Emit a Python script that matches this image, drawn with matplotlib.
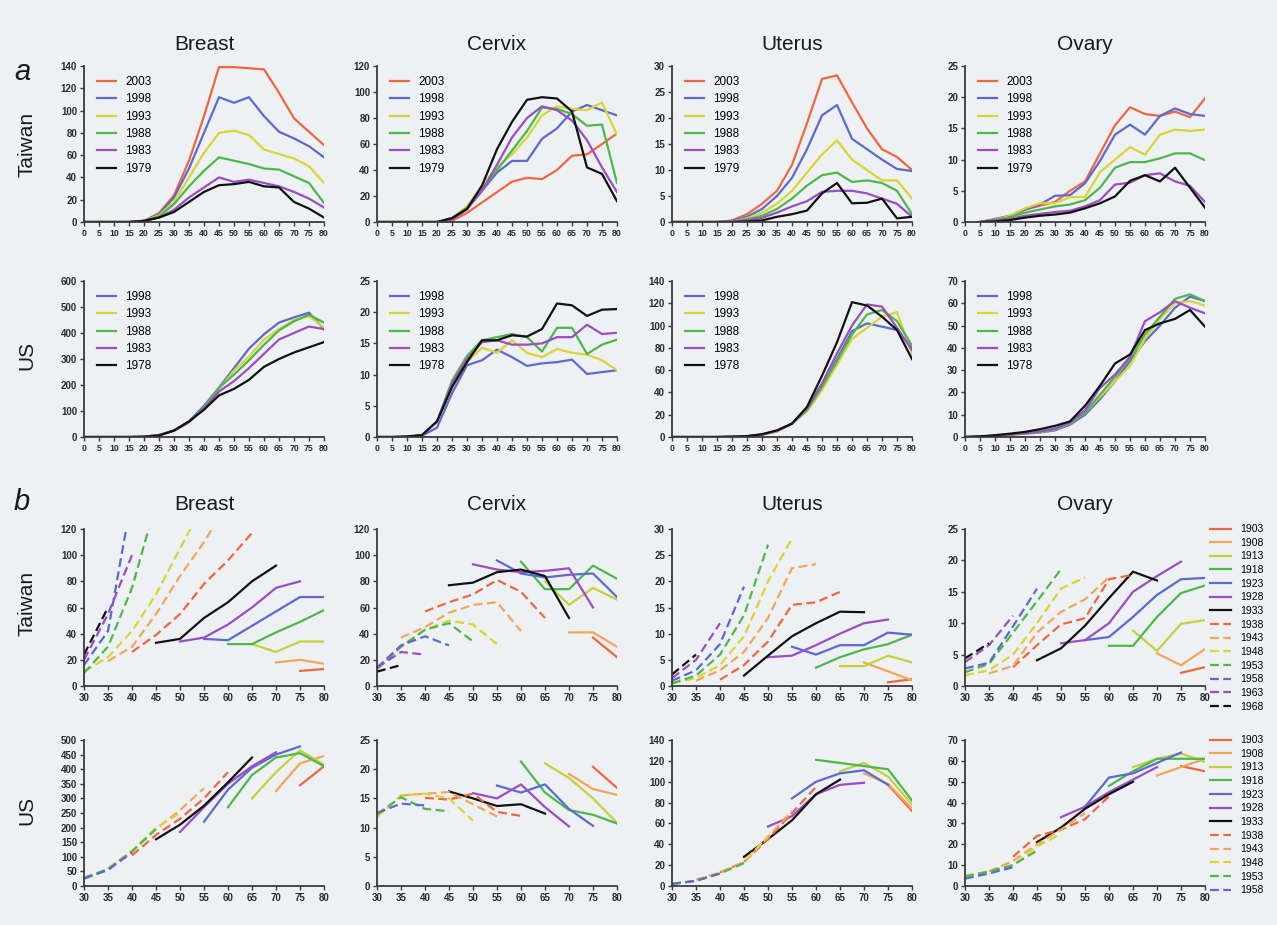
import numpy as np
import matplotlib.pyplot as plt

plt.rcParams['font.family'] = 'Liberation Sans'

W, H = 1277, 925
BG = '#EEF1F4'
N = None

# ---------------- data ----------------
ages_a = list(range(0, 85, 5))
ages_b = list(range(30, 85, 5))

years_tw = ['2003', '1998', '1993', '1988', '1983', '1979']
years_us = ['1998', '1993', '1988', '1983', '1978']
cohorts_tw = ['1903', '1908', '1913', '1918', '1923', '1928', '1933',
              '1938', '1943', '1948', '1953', '1958', '1963', '1968']
cohorts_us = cohorts_tw[:12]

# part a, Taiwan (rows follow years_tw)
tw_breast_a = [
    [0, 0, 0, 0, 1, 8, 24, 55, 95, 139, 139, 138, 137, 116, 93, 81, 69],
    [0, 0, 0, 0, 1, 7, 22, 48, 80, 112, 107, 112, 95, 81, 75, 68, 58],
    [0, 0, 0, 0, 1, 6, 18, 40, 62, 80, 82, 78, 65, 61, 57, 50, 35],
    [0, 0, 0, 0, 1, 5, 16, 32, 46, 58, 55, 52, 48, 47, 41, 35, 17],
    [0, 0, 0, 0, 1, 4, 11, 22, 31, 40, 36, 38, 35, 32, 27, 21, 13],
    [0, 0, 0, 0, 1, 4, 9, 18, 27, 33, 34, 36, 32, 31, 18, 12, 4],
]
tw_cervix_a = [
    [0, 0, 0, 0, 0, 1, 7, 15, 23, 31, 34, 33, 40, 51, 52, 60, 68],
    [0, 0, 0, 0, 0, 2, 10, 24, 38, 47, 47, 64, 72, 85, 90, 86, 82],
    [0, 0, 0, 0, 0, 3, 12, 28, 42, 52, 65, 82, 89, 87, 86, 92, 67],
    [0, 0, 0, 0, 0, 3, 11, 25, 40, 55, 70, 88, 87, 83, 74, 75, 30],
    [0, 0, 0, 0, 0, 2, 10, 24, 44, 65, 80, 89, 86, 78, 63, 42, 23],
    [0, 0, 0, 0, 0, 3, 10, 28, 56, 77, 94, 96, 95, 85, 42, 37, 16],
]
tw_uterus_a = [
    [0, 0, 0, 0, 0.3, 1.5, 3.5, 6, 11, 19, 27.5, 28.2, 23, 18, 14, 12.5, 10],
    [0, 0, 0, 0, 0.2, 1, 2.5, 5, 8.5, 14, 20.5, 22.5, 16, 14, 12, 10.2, 9.8],
    [0, 0, 0, 0, 0.1, 0.7, 1.8, 3.5, 6, 9.5, 13, 15.7, 12, 10, 8, 8, 4.5],
    [0, 0, 0, 0, 0.1, 0.5, 1.2, 2.5, 4.5, 7, 9, 9.5, 7.7, 8, 7.5, 6, 1.5],
    [0, 0, 0, 0, 0.1, 0.3, 0.8, 1.8, 3, 4, 5.8, 6, 6, 5.5, 4.5, 3.5, 1],
    [0, 0, 0, 0, 0, 0.1, 0.3, 1, 1.5, 2.2, 5.5, 7.5, 3.6, 3.7, 4.5, 0.7, 1.0],
]
tw_ovary_a = [
    [N, 0, 0.5, 1, 2, 2.6, 3.2, 5, 6.5, 11, 15.5, 18.4, 17.3, 17, 17.7, 16.8, 19.8],
    [N, 0, 0.4, 1, 2, 2.8, 4.2, 4.3, 6.2, 9.8, 14, 15.6, 14, 17, 18.2, 17.3, 17],
    [N, 0, 0.3, 1, 2.2, 3, 3, 4, 4, 8, 10, 12, 10.8, 14, 14.8, 14.6, 14.8],
    [N, 0, 0.3, 0.8, 1.5, 2, 2.5, 2.8, 3.5, 5.5, 8.7, 9.6, 9.6, 10.2, 11, 11, 9.9],
    [N, 0, 0.2, 0.5, 1, 1.3, 1.6, 1.8, 2.5, 3.5, 6, 6.3, 7.5, 7.8, 6.5, 5.8, 3.2],
    [N, 0, 0.1, 0.3, 0.7, 1, 1.2, 1.5, 2.2, 3, 4.1, 6.6, 7.5, 6.5, 8.7, 5.5, 2.3],
]

# part a, US (rows follow years_us)
us_breast_a = [
    [0, 0, 0, 0, 1, 8, 25, 60, 120, 190, 265, 340, 395, 440, 460, 478, 415],
    [0, 0, 0, 0, 1, 8, 25, 55, 110, 185, 255, 310, 375, 415, 450, 465, 420],
    [0, 0, 0, 0, 1, 7, 24, 58, 115, 190, 240, 295, 355, 410, 445, 470, 440],
    [0, 0, 0, 0, 1, 7, 24, 58, 110, 175, 215, 265, 320, 375, 400, 425, 415],
    [0, 0, 0, 0, 1, 6, 25, 60, 105, 160, 185, 220, 270, 300, 325, 345, 365],
]
us_cervix_a = [
    [0, 0, 0, 0.2, 1.5, 7, 11.5, 12.3, 14, 12.8, 11.4, 11.8, 12, 12.4, 10.1, 10.4, 10.7],
    [0, 0, 0, 0.3, 2.5, 8, 12, 14.3, 13.5, 15.5, 13.5, 12.8, 14.1, 13.5, 13.2, 12.3, 10.7],
    [0, 0, 0, 0.3, 2.5, 9, 13, 15.5, 16, 16.5, 16, 13.7, 17.5, 17.5, 13.3, 14.8, 15.6],
    [0, 0, 0, 0.3, 2.5, 8.5, 12.5, 15.2, 15.5, 14.8, 14.8, 15, 16, 16, 18, 16.5, 16.7],
    [0, 0, 0.1, 0.3, 2.5, 8, 12, 15.5, 15.5, 16.3, 16.1, 17.3, 21.4, 21.1, 19.4, 20.4, 20.5],
]
us_uterus_a = [
    [0, 0, 0, 0, 0.2, 0.5, 2, 5, 12, 25, 45, 70, 95, 102, 99, 96, 80],
    [0, 0, 0, 0, 0.2, 0.5, 2, 5, 12, 23, 42, 65, 88, 98, 108, 112, 75],
    [0, 0, 0, 0, 0.2, 0.6, 2.2, 5.5, 12, 24, 45, 68, 92, 110, 114, 104, 82],
    [0, 0, 0, 0, 0.2, 0.6, 2.2, 5.5, 12, 26, 48, 75, 100, 119, 117, 98, 78],
    [0, 0, 0, 0, 0.3, 0.8, 2.5, 6, 12, 27, 55, 85, 121, 118, 108, 96, 70],
]
us_ovary_a = [
    [0, 0.2, 0.5, 1, 1.5, 2, 3, 5.5, 10, 17, 25, 34, 43, 50, 58, 63, 61],
    [0, 0.2, 0.5, 1, 1.6, 2.2, 3.5, 6, 11, 18, 25, 32, 44, 53, 60, 61, 59],
    [0, 0.2, 0.5, 1, 1.6, 2.3, 3.5, 6, 11, 19, 27, 35, 46, 54, 62, 64, 61],
    [0, 0.2, 0.6, 1.2, 1.8, 2.5, 3.8, 6.5, 12, 22, 28, 36, 52, 56, 61, 58, 55.5],
    [0, 0.3, 0.8, 1.5, 2.3, 3.5, 5, 7, 14, 23, 33, 37, 48, 51, 53, 57, 49.5],
]

# part b, Taiwan birth cohorts (rows follow cohorts_tw, ages 30..80)
tw_breast_b = [
    [N, N, N, N, N, N, N, N, N, 11.5, 13],
    [N, N, N, N, N, N, N, N, 18, 20, 17],
    [N, N, N, N, N, N, N, 32, 26, 34, 34],
    [N, N, N, N, N, N, 32, 32, 41, 49, 58],
    [N, N, N, N, N, 36, 35, 46, 57, 68, 68],
    [N, N, N, N, 34, 37, 47, 60, 75, 80, N],
    [N, N, N, 33, 36, 52, 64, 80, 92, N, N],
    [N, N, 26, 39, 55, 78, 96, 117, N, N, N],
    [N, 19, 30, 55, 84, 110, 140, N, N, N, N],
    [11, 22, 42, 70, 105, 140, N, N, N, N, N],
    [10, 30, 75, 140, 200, N, N, N, N, N, N],
    [16, 42, 145, 220, N, N, N, N, N, N, N],
    [20, 55, 100, N, N, N, N, N, N, N, N],
    [24, 60, N, N, N, N, N, N, N, N, N],
]
tw_cervix_b = [
    [N, N, N, N, N, N, N, N, N, 37, 22],
    [N, N, N, N, N, N, N, N, 41, 41, 30],
    [N, N, N, N, N, N, N, 80, 62, 75, 66],
    [N, N, N, N, N, N, 95, 74, 74, 92, 82],
    [N, N, N, N, N, 96, 86, 83, 85, 86, 68],
    [N, N, N, N, 93, 89, 87, 88, 90, 60, N],
    [N, N, N, 77, 79, 87, 89, 84, 52, N, N],
    [N, N, 57, 64, 70, 81, 72, 52, N, N, N],
    [N, 37, 45, 56, 62, 64, 42, N, N, N, N],
    [14, 30, 43, 50, 47, 32, N, N, N, N, N],
    [13, 30, 43, 48, 34, N, N, N, N, N, N],
    [14, 31, 38, 31, N, N, N, N, N, N, N],
    [14, 26, 24, N, N, N, N, N, N, N, N],
    [11, 16, N, N, N, N, N, N, N, N, N],
]
tw_uterus_b = [
    [N, N, N, N, N, N, N, N, N, 0.7, 1.3],
    [N, N, N, N, N, N, N, N, 4.5, 2.8, 1.1],
    [N, N, N, N, N, N, N, 3.8, 3.8, 5.8, 4.5],
    [N, N, N, N, N, N, 3.5, 5.5, 7, 8, 9.8],
    [N, N, N, N, N, 7.5, 6, 7.8, 7.8, 10.2, 9.8],
    [N, N, N, N, 5.5, 5.8, 7.8, 10, 12, 12.7, N],
    [N, N, N, 2, 5.8, 9.5, 12, 14.2, 14.1, N, N],
    [N, N, 1.2, 4, 8.5, 15.5, 16, 18, N, N, N],
    [N, 1, 3, 6.5, 13, 22.5, 23.3, N, N, N, N],
    [0.5, 1.5, 4, 9.5, 20, 28.2, N, N, N, N, N],
    [0.5, 2, 6, 13.5, 27, N, N, N, N, N, N],
    [1, 3, 8, 19, N, N, N, N, N, N, N],
    [1.5, 5, 12, N, N, N, N, N, N, N, N],
    [2.2, 6, N, N, N, N, N, N, N, N, N],
]
tw_ovary_b = [
    [N, N, N, N, N, N, N, N, N, 2.1, 3],
    [N, N, N, N, N, N, N, N, 5.2, 3.3, 5.9],
    [N, N, N, N, N, N, N, 8.8, 5.6, 9.9, 10.5],
    [N, N, N, N, N, N, 6.4, 6.4, 11, 14.8, 16],
    [N, N, N, N, N, 7.3, 7.8, 11, 14.5, 17, 17.2],
    [N, N, N, N, 6.8, 7.3, 10, 15, 17.5, 19.8, N],
    [N, N, N, 4.1, 6, 9.6, 14, 18.2, 16.8, N, N],
    [N, N, 3, 6.5, 9.8, 10.8, 17, 17.7, N, N, N],
    [N, 2, 3.2, 8.5, 11.8, 13.8, 17.3, N, N, N, N],
    [1.7, 2.5, 5, 10, 15.5, 17.3, N, N, N, N, N],
    [2.2, 3.5, 8.5, 13.5, 18.6, N, N, N, N, N, N],
    [2.8, 3.7, 9.5, 15.5, N, N, N, N, N, N, N],
    [3.8, 6.5, 11.2, N, N, N, N, N, N, N, N],
    [4.4, 6.8, N, N, N, N, N, N, N, N, N],
]

# part b, US birth cohorts (rows follow cohorts_us)
us_breast_b = [
    [N, N, N, N, N, N, N, N, N, 345, 410],
    [N, N, N, N, N, N, N, N, 325, 420, 445],
    [N, N, N, N, N, N, N, 300, 390, 465, 415],
    [N, N, N, N, N, N, 270, 380, 440, 455, 410],
    [N, N, N, N, N, 220, 330, 405, 450, 478, N],
    [N, N, N, N, 185, 270, 350, 410, 458, N, N],
    [N, N, N, 160, 210, 275, 355, 440, N, N, N],
    [N, N, 105, 175, 230, 300, 390, N, N, N, N],
    [N, 60, 120, 195, 260, 335, N, N, N, N, N],
    [25, 58, 120, 200, 250, N, N, N, N, N, N],
    [28, 58, 118, 195, N, N, N, N, N, N, N],
    [25, 55, 115, N, N, N, N, N, N, N, N],
]
us_cervix_b = [
    [N, N, N, N, N, N, N, N, N, 20.4, 16.8],
    [N, N, N, N, N, N, N, N, 19.2, 16.6, 15.6],
    [N, N, N, N, N, N, N, 21, 18.5, 15, 10.8],
    [N, N, N, N, N, N, 21.3, 16, 13, 12.2, 10.7],
    [N, N, N, N, N, 17.2, 16, 17.4, 13.2, 10.3, N],
    [N, N, N, N, 15.9, 15, 17.4, 13.5, 10.2, N, N],
    [N, N, N, 16.2, 15, 13.7, 14, 12.4, N, N, N],
    [N, N, 15.1, 14.8, 15.8, 12.7, 12, N, N, N, N],
    [N, 15.5, 15.8, 16.1, 14, 11.9, N, N, N, N, N],
    [11.8, 15.5, 15.8, 15, 11.2, N, N, N, N, N, N],
    [12.3, 15.2, 13.2, 12.8, N, N, N, N, N, N, N],
    [12.5, 14.1, 13.8, N, N, N, N, N, N, N, N],
]
us_uterus_b = [
    [N, N, N, N, N, N, N, N, N, 97, 72],
    [N, N, N, N, N, N, N, N, 108, 98, 74],
    [N, N, N, N, N, N, N, 110, 118, 105, 78],
    [N, N, N, N, N, N, 121, 118, 115, 112, 82],
    [N, N, N, N, N, 84, 100, 108, 111, 97, N],
    [N, N, N, N, 57, 67, 88, 97, 99, N, N],
    [N, N, N, 28, 45, 63, 88, 102, N, N, N],
    [N, N, 13, 23, 45, 70, 95, N, N, N, N],
    [N, 6, 13, 23, 47, 72, N, N, N, N, N],
    [2, 5, 12, 23, 48, N, N, N, N, N, N],
    [2, 5, 12, 22, N, N, N, N, N, N, N],
    [2, 5, 12, N, N, N, N, N, N, N, N],
]
us_ovary_b = [
    [N, N, N, N, N, N, N, N, N, 57.5, 55],
    [N, N, N, N, N, N, N, N, 53, 57, 61],
    [N, N, N, N, N, N, N, 57, 61, 63.5, 59.5],
    [N, N, N, N, N, N, 48, 55, 61, 61, 61],
    [N, N, N, N, N, 38, 52, 54, 59, 64, N],
    [N, N, N, N, 33, 38, 45, 51, 57, N, N],
    [N, N, N, 21, 28, 37, 44, 50, N, N, N],
    [N, N, 14, 24, 27, 32, 43, N, N, N, N],
    [N, 7, 12, 20, 27, 35, N, N, N, N, N],
    [5, 7, 10, 19, 25, N, N, N, N, N, N],
    [4.5, 7, 10, 17, N, N, N, N, N, N, N],
    [3.5, 6, 9, N, N, N, N, N, N, N, N],
]

# ---------------- styles ----------------
RED = '#F0663E'
ORANGE = '#F6A458'
YELLOW = '#D8D534'
LIME = '#C5D03C'
GREEN = '#4DB84A'
BLUE = '#5A6AD0'
PURPLE = '#9A4DC4'
BLACK = '#111111'

colors_tw_a = [RED, BLUE, YELLOW, GREEN, PURPLE, BLACK]
colors_us_a = [BLUE, YELLOW, GREEN, PURPLE, BLACK]
colors_b = [RED, ORANGE, LIME, GREEN, BLUE, PURPLE, BLACK,
            RED, ORANGE, YELLOW, GREEN, BLUE, PURPLE, BLACK]
dashed_b = [False] * 7 + [True] * 7

cols = [84, 377, 672, 965]
AW = 240
rows = {'a_tw': (66, 222), 'a_us': (281, 437), 'b_tw': (529, 686), 'b_us': (740, 886)}

fig = plt.figure(figsize=(W / 100, H / 100), dpi=100)
fig.patch.set_facecolor(BG)


def make_ax(col, row):
    top, bot = rows[row]
    ax = fig.add_axes([cols[col] / W, 1 - bot / H, AW / W, (bot - top) / H])
    ax.set_facecolor('none')
    for s in ['top', 'right']:
        ax.spines[s].set_visible(False)
    for s in ['left', 'bottom']:
        ax.spines[s].set_color('#3a3a3a')
        ax.spines[s].set_linewidth(1.3)
    ax.tick_params(direction='out', length=3, width=1, color='#3a3a3a',
                   labelcolor='#2a2a2a', pad=2)
    return ax


def finish(ax, xmin, ystep, ymax, xsize):
    ax.set_xlim(xmin, 80)
    ax.set_ylim(0, ymax)
    ax.set_xticks(range(xmin, 85, 5))
    ax.set_yticks(np.arange(0, ymax + 0.01, ystep))
    ax.set_yticklabels([f'{v:g}' for v in np.arange(0, ymax + 0.01, ystep)])
    for lab in ax.get_xticklabels():
        lab.set_fontsize(xsize)
        lab.set_fontweight('bold')
    for lab in ax.get_yticklabels():
        lab.set_fontsize(7)
        lab.set_fontweight('bold')


def period_panel(col, row, data, years, colors, ystep, ymax):
    ax = make_ax(col, row)
    for vals, yr, c in zip(data, years, colors):
        ax.plot(ages_a, np.array(vals, dtype=float), color=c, lw=1.6, label=yr)
    finish(ax, 0, ystep, ymax, 6.3)
    ax.legend(loc='upper left', bbox_to_anchor=(0.035, 0.965), frameon=False,
              fontsize=8.5, handlelength=1.6, handletextpad=0.8,
              labelspacing=0.45, borderaxespad=0)
    return ax


def cohort_panel(col, row, data, cohorts, ystep, ymax):
    ax = make_ax(col, row)
    for i, (vals, ch) in enumerate(zip(data, cohorts)):
        ls = (0, (4, 2)) if dashed_b[i] else '-'
        ax.plot(ages_b, np.array(vals, dtype=float), color=colors_b[i], lw=1.6,
                ls=ls, label=ch)
    finish(ax, 30, ystep, ymax, 7)
    return ax


# part a
period_panel(0, 'a_tw', tw_breast_a, years_tw, colors_tw_a, 20, 140)
period_panel(1, 'a_tw', tw_cervix_a, years_tw, colors_tw_a, 20, 120)
period_panel(2, 'a_tw', tw_uterus_a, years_tw, colors_tw_a, 5, 30)
period_panel(3, 'a_tw', tw_ovary_a, years_tw, colors_tw_a, 5, 25)
period_panel(0, 'a_us', us_breast_a, years_us, colors_us_a, 100, 600)
period_panel(1, 'a_us', us_cervix_a, years_us, colors_us_a, 5, 25)
period_panel(2, 'a_us', us_uterus_a, years_us, colors_us_a, 20, 140)
period_panel(3, 'a_us', us_ovary_a, years_us, colors_us_a, 10, 70)

# part b
cohort_panel(0, 'b_tw', tw_breast_b, cohorts_tw, 20, 120)
cohort_panel(1, 'b_tw', tw_cervix_b, cohorts_tw, 20, 120)
cohort_panel(2, 'b_tw', tw_uterus_b, cohorts_tw, 5, 30)
ax_b_tw = cohort_panel(3, 'b_tw', tw_ovary_b, cohorts_tw, 5, 25)
cohort_panel(0, 'b_us', us_breast_b, cohorts_us, 50, 500)
cohort_panel(1, 'b_us', us_cervix_b, cohorts_us, 5, 25)
cohort_panel(2, 'b_us', us_uterus_b, cohorts_us, 20, 140)
ax_b_us = cohort_panel(3, 'b_us', us_ovary_b, cohorts_us, 10, 70)

for ax, top in [(ax_b_tw, 520), (ax_b_us, 731)]:
    ax.legend(loc='upper left', bbox_to_anchor=(1206 / W, 1 - top / H),
              bbox_transform=fig.transFigure, frameon=False, fontsize=7.5,
              handlelength=2.0, handletextpad=0.9, labelspacing=0.35,
              borderaxespad=0)

# titles and labels
titles = ['Breast', 'Cervix', 'Uterus', 'Ovary']
for i, t in enumerate(titles):
    xc = (cols[i] + AW / 2) / W
    fig.text(xc, 1 - 45 / H, t, ha='center', va='center', fontsize=15, color='#1a1a1a')
    fig.text(xc, 1 - 504 / H, t, ha='center', va='center', fontsize=15, color='#1a1a1a')

for txt, yc in [('Taiwan', 144), ('US', 355), ('Taiwan', 603), ('US', 810)]:
    fig.text(27 / W, 1 - yc / H, txt, rotation=90, ha='center', va='center',
             fontsize=15, color='#1a1a1a')

fig.text(22 / W, 1 - 72 / H, 'a', fontsize=21, fontstyle='italic', ha='center',
         va='center', color='#1a1a1a')
fig.text(22 / W, 1 - 502 / H, 'b', fontsize=21, fontstyle='italic', ha='center',
         va='center', color='#1a1a1a')

fig.savefig('out.png', dpi=100, facecolor=BG)
